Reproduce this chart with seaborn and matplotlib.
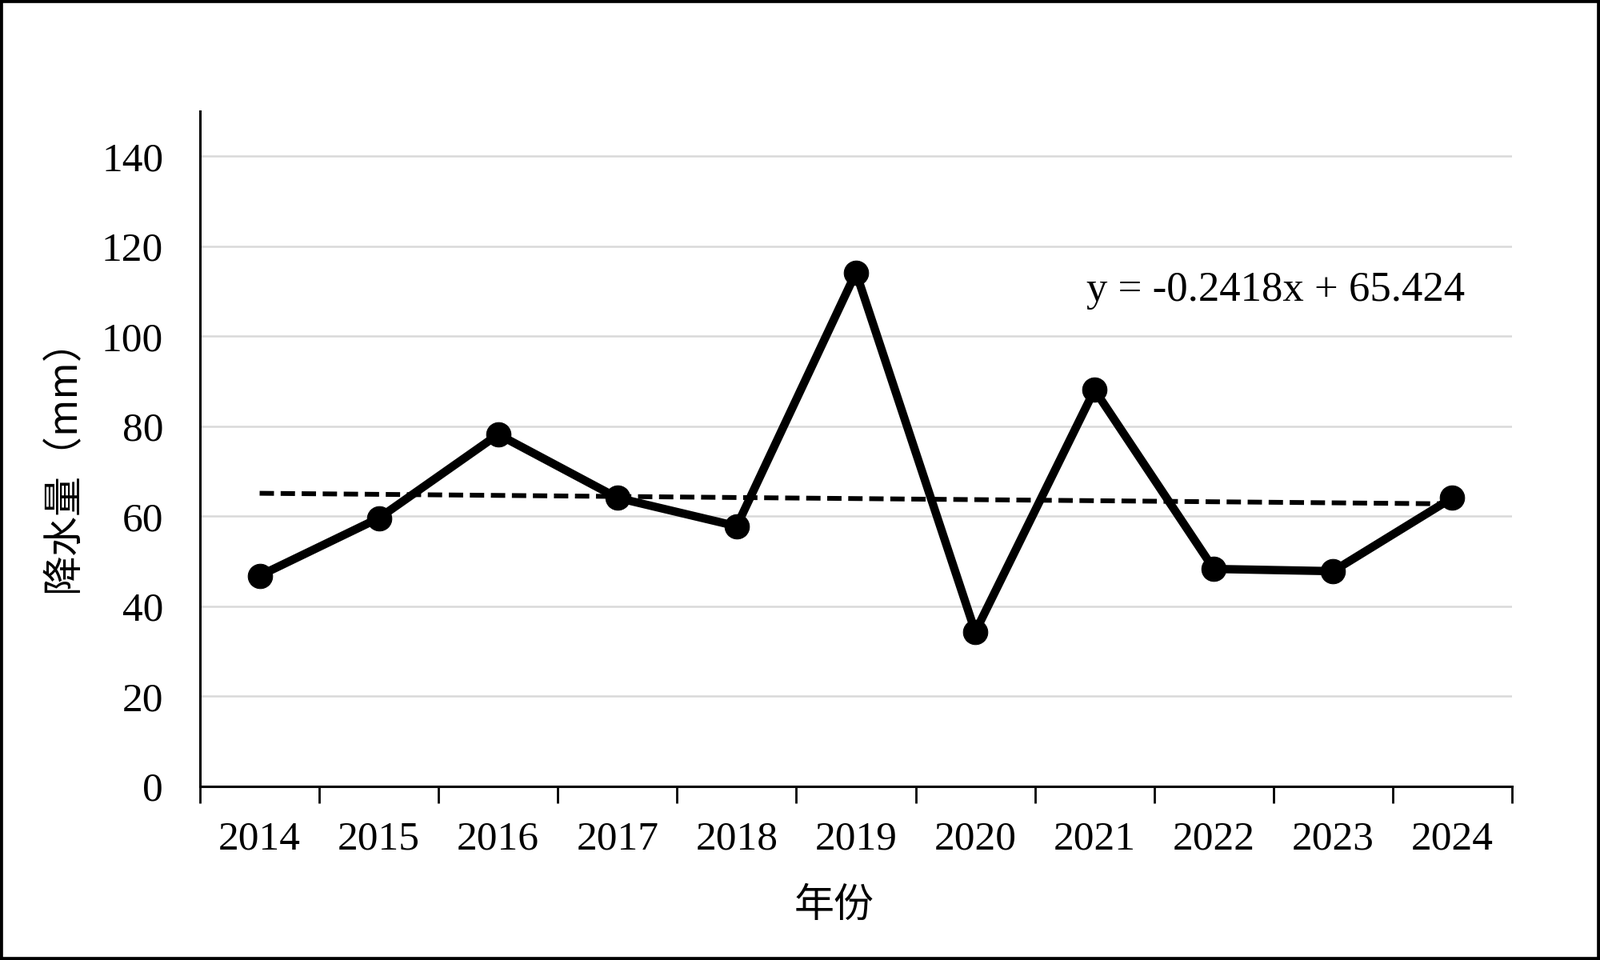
import numpy as np
import pandas as pd
import matplotlib
matplotlib.use("Agg")
import matplotlib.pyplot as plt
import seaborn as sns
from matplotlib.patches import Rectangle

# data
years = [2014, 2015, 2016, 2017, 2018, 2019, 2020, 2021, 2022, 2023, 2024]
rain_mm = [46.8, 59.6, 78.2, 64.1, 57.8, 114.2, 34.3, 88.1, 48.3, 47.8, 64.1]
y_ticks = [0, 20, 40, 60, 80, 100, 120, 140]
trend_label = "y = -0.2418x + 65.424"
x_label = "年份"
y_label = "降水量（mm）"

df = pd.DataFrame({"year": years, "rain": rain_mm})

sns.set_theme(style="white")
plt.rcParams["font.family"] = ["Liberation Serif", "Noto Sans CJK SC"]
plt.rcParams["axes.unicode_minus"] = False
for k in ["text.color", "axes.labelcolor", "xtick.color", "ytick.color"]:
    plt.rcParams[k] = "black"
cjk = ["Noto Sans CJK SC", "DejaVu Sans"]

fig = plt.figure(figsize=(20, 12), dpi=100)
ax = fig.add_axes([0.125, 0.181, 0.82, 0.703])

# linear trend (dashed)
sns.regplot(data=df, x="year", y="rain", scatter=False, ci=None, ax=ax,
            line_kws=dict(color="black", lw=4.3, dashes=(3.0, 1.4), zorder=2))

sns.lineplot(data=df, x="year", y="rain", ax=ax, color="black", lw=7.5,
             marker="o", markersize=22, markeredgecolor="black", zorder=3)

ax.set_xlim(years[0] - 0.5, years[-1] + 0.5)
ax.set_ylim(0, 150)
ax.set_yticks(y_ticks)
ax.set_yticklabels([str(t) for t in y_ticks])
ax.yaxis.grid(True, color="#d9d9d9", lw=1.8)
ax.set_axisbelow(True)
ax.tick_params(axis="y", length=0, pad=33, labelsize=37)

# ticks between categories, labels at the category centres
ax.set_xticks(np.arange(years[0] - 0.5, years[-1] + 1))
ax.set_xticklabels([])
ax.set_xticks(years, minor=True)
ax.set_xticklabels([str(y) for y in years], minor=True)
ax.tick_params(axis="x", which="major", direction="out", length=15, width=2,
               color="black", bottom=True)
ax.tick_params(axis="x", which="minor", length=0, pad=31, labelsize=37)

for s in ["top", "right"]:
    ax.spines[s].set_visible(False)
for s in ["left", "bottom"]:
    ax.spines[s].set_color("black")
    ax.spines[s].set_linewidth(2.2)

ax.set_xlabel(x_label, fontsize=36, family=cjk)
ax.set_ylabel(y_label, fontsize=36, family=cjk)
ax.xaxis.set_label_coords(0.4835, -0.146)
ax.yaxis.set_label_coords(-0.088, 0.49)

ax.text(0.82, 0.735, trend_label, transform=ax.transAxes, fontsize=38,
        ha="center", va="center")

fig.patches.append(Rectangle((0, 0), 1, 1, transform=fig.transFigure,
                             fill=False, edgecolor="black", lw=5.5))

fig.savefig("out.png", dpi=100, facecolor="white")
